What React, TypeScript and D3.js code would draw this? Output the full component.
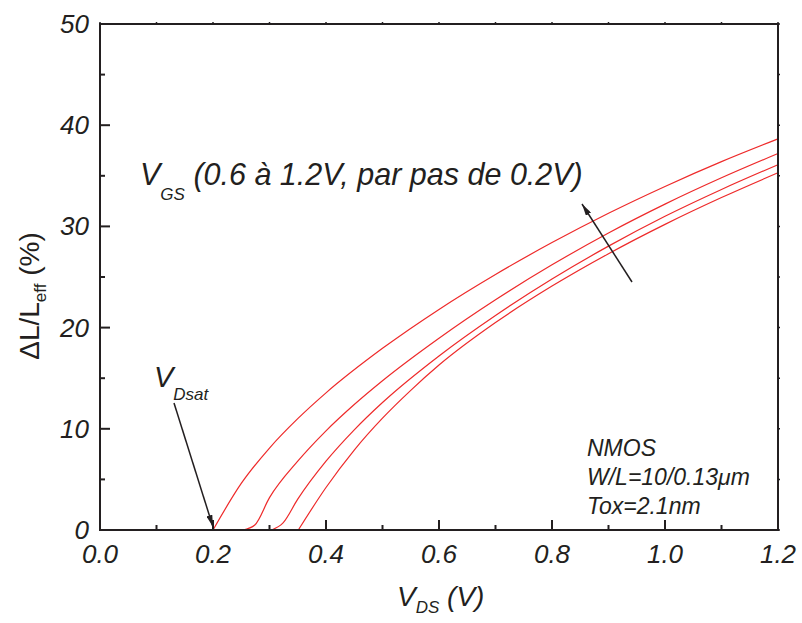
import React from "react";
import * as d3 from "d3";

const W = 802;
const H = 623;

const xTicks = [0, 0.2, 0.4, 0.6, 0.8, 1.0, 1.2];
const xMinor = [0.1, 0.3, 0.5, 0.7, 0.9, 1.1];
const yTicks = [0, 10, 20, 30, 40, 50];
const yMinor = [5, 15, 25, 35, 45];

const vgsLabels = ["0.6V", "0.8V", "1.0V", "1.2V"];
const c1: [number, number][] = [[0.2, 0], [0.25, 4.6], [0.3, 8.1], [0.35, 11.0], [0.4, 13.55], [0.5, 17.95], [0.6, 21.8], [0.7, 25.25], [0.8, 28.4], [0.9, 31.3], [1.0, 33.95], [1.1, 36.4], [1.2, 38.65]];
const c2: [number, number][] = [[0.253, 0], [0.274, 0.5], [0.3, 3.2], [0.35, 6.8], [0.4, 9.8], [0.45, 12.4], [0.5, 14.75], [0.6, 18.95], [0.7, 22.75], [0.8, 26.2], [0.9, 29.35], [1.0, 32.2], [1.1, 34.8], [1.2, 37.2]];
const c3: [number, number][] = [[0.304, 0], [0.324, 0.7], [0.35, 3.05], [0.4, 6.8], [0.45, 9.9], [0.5, 12.6], [0.6, 17.2], [0.7, 21.2], [0.8, 24.8], [0.9, 28.05], [1.0, 31.0], [1.1, 33.65], [1.2, 36.1]];
const c4: [number, number][] = [[0.351, 0], [0.4, 4.2], [0.45, 7.9], [0.5, 11.05], [0.55, 13.8], [0.6, 16.3], [0.7, 20.5], [0.8, 24.1], [0.9, 27.3], [1.0, 30.2], [1.1, 32.85], [1.2, 35.3]];
const series = [c1, c2, c3, c4];

const FONT = "'Liberation Sans', Arial, Helvetica, sans-serif";
const AX = "#231f20";
const RED = "#ee2a2a";

export default function App() {
  const x = d3.scaleLinear().domain([0, 1.2]).range([100, 778]);
  const y = d3.scaleLinear().domain([0, 50]).range([530, 24]);
  const line = d3
    .line<[number, number]>()
    .x((d) => x(d[0]))
    .y((d) => y(d[1]))
    .curve(d3.curveMonotoneX);

  const x0 = x(0), x1 = x(1.2), y0 = y(0), y1 = y(50);

  return (
    <svg
      width={W}
      height={H}
      style={{ position: "absolute", left: 0, top: 0, background: "#fff" }}
      fontFamily={FONT}
    >
      <defs>
        <marker id="ah" viewBox="0 0 12 6" refX="12" refY="3" markerWidth="12" markerHeight="6" markerUnits="userSpaceOnUse" orient="auto">
          <path d="M0,0 L12,3 L0,6 Z" fill={AX} />
        </marker>
      </defs>
      {/* curves */}
      <g fill="none" stroke={RED} strokeWidth={1.2}>
        {series.map((s, i) => (
          <path key={vgsLabels[i]} d={line(s) || ""} />
        ))}
      </g>
      {/* axes frame */}
      <rect x={x0} y={y1} width={x1 - x0} height={y0 - y1} fill="none" stroke={AX} strokeWidth={2} />
      {/* ticks */}
      <g stroke={AX} strokeWidth={2}>
        {xTicks.map((t) => (
          <line key={"xb" + t} x1={x(t)} x2={x(t)} y1={y0} y2={y0 - 10} />
        ))}
        {xMinor.map((t) => (
          <line key={"xm" + t} x1={x(t)} x2={x(t)} y1={y0} y2={y0 - 5} />
        ))}
        {yTicks.map((t) => (
          <line key={"yl" + t} x1={x0} x2={x0 + 10} y1={y(t)} y2={y(t)} />
        ))}
        {yMinor.map((t) => (
          <line key={"ym" + t} x1={x0} x2={x0 + 5} y1={y(t)} y2={y(t)} />
        ))}
        {[...xTicks, ...xMinor].map((t) => (
          <line key={"xt" + t} x1={x(t)} x2={x(t)} y1={y1} y2={y1 - 2} strokeWidth={1.5} />
        ))}
        {[...yTicks, ...yMinor].map((t) => (
          <line key={"yr" + t} x1={x1} x2={x1 + 2} y1={y(t)} y2={y(t)} strokeWidth={1.5} />
        ))}
      </g>
      {/* tick labels */}
      <g fontSize={26} fontStyle="italic" fill={AX}>
        {xTicks.map((t) => (
          <text key={"xl" + t} x={x(t)} y={563} textAnchor="middle">
            {t.toFixed(1)}
          </text>
        ))}
        {yTicks.map((t) => (
          <text key={"yll" + t} x={89} y={y(t) + 9} textAnchor="end">
            {t}
          </text>
        ))}
      </g>
      {/* axis titles */}
      <text x={397} y={606} fontSize={28} fontStyle="italic" fill={AX}>
        V
        <tspan fontSize={17} dy={7}>DS</tspan>
        <tspan dy={-7}> (V)</tspan>
      </text>
      <text transform="translate(39,296) rotate(-90)" textAnchor="middle" fontSize={28} fill={AX}>
        ΔL/L
        <tspan fontSize={17} dy={7}>eff</tspan>
        <tspan dy={-7}> (%)</tspan>
      </text>
      {/* annotations */}
      <text x={140} y={185} fontSize={30.5} fontStyle="italic" fill={AX}>
        V
        <tspan fontSize={17} dy={15}>GS</tspan>
        <tspan dy={-15}> (0.6 à 1.2V, par pas de 0.2V)</tspan>
      </text>
      <text x={154} y={387} fontSize={29} fontStyle="italic" fill={AX}>
        V
        <tspan fontSize={17} dy={13}>Dsat</tspan>
      </text>
      <line x1={174} y1={403} x2={213} y2={527} stroke={AX} strokeWidth={1.5} markerEnd="url(#ah)" />
      <line x1={632} y1={282} x2={582} y2={204} stroke={AX} strokeWidth={1.5} markerEnd="url(#ah)" />
      <g fontSize={23} fontStyle="italic" fill={AX}>
        <text x={587} y={456}>NMOS</text>
        <text x={587} y={485}>W/L=10/0.13μm</text>
        <text x={587} y={514}>Tox=2.1nm</text>
      </g>
    </svg>
  );
}
